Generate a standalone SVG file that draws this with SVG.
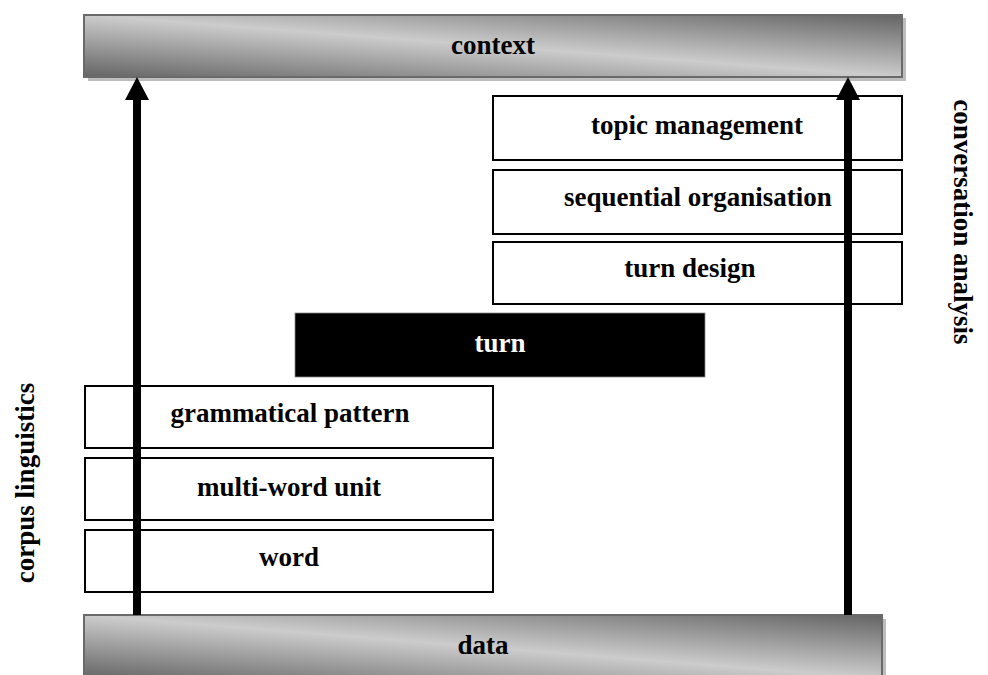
<svg xmlns="http://www.w3.org/2000/svg" width="988" height="675" viewBox="0 0 988 675">
<style>
  text { font-family: "Liberation Serif", "Times New Roman", serif; font-weight: bold; font-size: 27px; text-anchor: middle; dominant-baseline: central; fill: #000; }
  .box { fill: #fff; stroke: #000; stroke-width: 2; }
  .bar { fill: url(#barGrad); stroke: #6a6a6a; stroke-width: 2; }
  .shadow { fill: #bdbdbd; }
  .arrow { fill: #000; }
</style>
<defs>
  <linearGradient id="barGrad" x1="0" y1="1" x2="1" y2="0">
    <stop offset="0" stop-color="#646464"/>
    <stop offset="0.5" stop-color="#cccccc"/>
    <stop offset="1" stop-color="#646464"/>
  </linearGradient>
</defs>
<rect width="988" height="675" fill="#fff"/>

<g id="context">
  <rect class="shadow" x="88" y="18" width="818" height="63"/>
  <rect class="bar" x="84" y="15" width="818" height="62"/>
  <text x="493" y="45">context</text>
</g>

<g id="data">
  <rect class="shadow" x="88" y="619" width="798" height="63"/>
  <rect class="bar" x="84" y="615" width="798" height="64"/>
  <text x="483" y="645">data</text>
</g>

<g id="topic-management">
  <rect class="box" x="493" y="96" width="409" height="64"/>
  <text x="697" y="125">topic management</text>
</g>
<g id="sequential-organisation">
  <rect class="box" x="493" y="170" width="409" height="64"/>
  <text x="698" y="197">sequential organisation</text>
</g>
<g id="turn-design">
  <rect class="box" x="493" y="242" width="409" height="62"/>
  <text x="690" y="268">turn design</text>
</g>
<g id="turn">
  <rect x="295" y="313" width="410" height="64" fill="#000" stroke="#888" stroke-width="0.8"/>
  <text x="500" y="343" style="fill:#fff">turn</text>
</g>
<g id="grammatical-pattern">
  <rect class="box" x="85" y="386" width="408" height="62"/>
  <text x="290" y="413">grammatical pattern</text>
</g>
<g id="multi-word-unit">
  <rect class="box" x="85" y="458" width="408" height="62"/>
  <text x="289" y="487">multi-word unit</text>
</g>
<g id="word">
  <rect class="box" x="85" y="530" width="408" height="62"/>
  <text x="289" y="557">word</text>
</g>

<g id="corpus-linguistics">
  <text transform="translate(25,483) rotate(-90)">corpus linguistics</text>
</g>
<g id="conversation-analysis">
  <text transform="translate(963,222) rotate(90)">conversation analysis</text>
</g>

<g id="connectors">
  <polygon class="arrow" points="133,615 141,615 141,100 149,100 137,77 125,100 133,100"/>
  <polygon class="arrow" points="844,615 852,615 852,100 860,100 848,77 836,100 844,100"/>
</g>
</svg>
